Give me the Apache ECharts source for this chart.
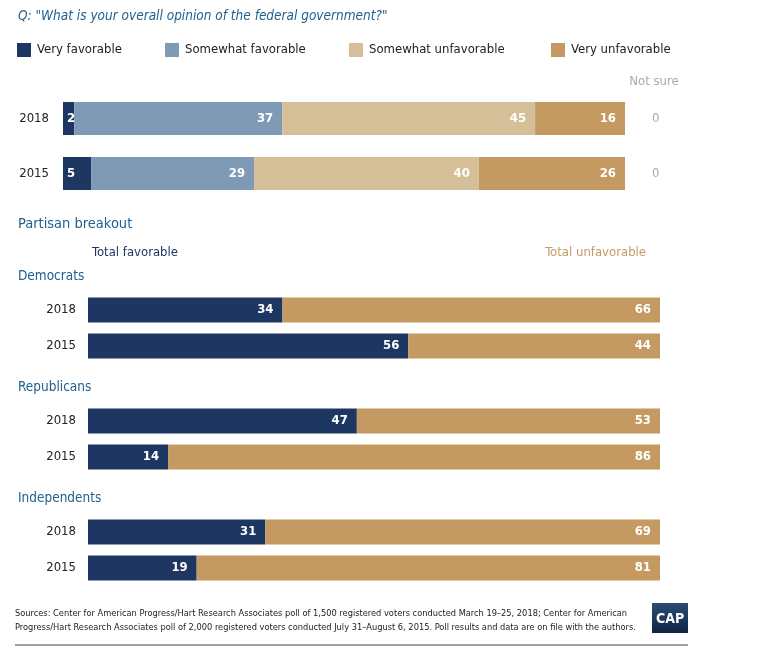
<!DOCTYPE html>
<html>
<head>
<meta charset="utf-8">
<script src="https://cdn.jsdelivr.net/npm/echarts@6/dist/echarts.min.js"></script>
<style>
  html, body { margin: 0; padding: 0; background: #fff; }
  #main { width: 762px; height: 655px; }
</style>
</head>
<body>
<div id="main"></div>
<script>
// overall opinion, top block
var years = ['2018', '2015']
var veryFav = [2, 5]
var somewhatFav = [37, 29]
var somewhatUnfav = [45, 40]
var veryUnfav = [16, 26]
var notSure = [0, 0]

// partisan breakout
var groups = ['Democrats', 'Republicans', 'Independents']
var totalFav = [[34, 56], [47, 14], [31, 19]]
var totalUnfav = [[66, 44], [53, 86], [69, 81]]

var FONT = "'DejaVu Sans Condensed', 'Liberation Sans Narrow', sans-serif"
var NAVY = '#1e3762'
var SFAV = '#7f9ab4'
var SUNF = '#d5bf98'
var VUNF = '#c49a62'
var BLUE = '#22608f'

var chart = echarts.init(document.getElementById('main'), null, { renderer: 'canvas' })

var grids = [{ left: 63, right: 137, top: 91, height: 110 }]
var xAxes = [{ gridIndex: 0, type: 'value', min: 0, max: 100, show: false }]
var yAxes = [
  {
    gridIndex: 0, type: 'category', data: years, inverse: true,
    axisLine: { show: false }, axisTick: { show: false }, splitLine: { show: false },
    axisLabel: { margin: 14, color: '#222', fontFamily: FONT, fontSize: 13 }
  },
  {
    gridIndex: 0, type: 'category', data: notSure.map(String), inverse: true, position: 'right',
    axisLine: { show: false }, axisTick: { show: false }, splitLine: { show: false },
    axisLabel: { margin: 27, color: '#aaa', fontFamily: FONT, fontSize: 13 }
  }
]

function valLabel() {
  return {
    show: true, position: 'insideRight', distance: 9,
    color: '#fff', fontFamily: FONT, fontSize: 13, fontWeight: 'bold'
  }
}

var series = [
  { name: 'Very favorable', data: veryFav, color: NAVY },
  { name: 'Somewhat favorable', data: somewhatFav, color: SFAV },
  { name: 'Somewhat unfavorable', data: somewhatUnfav, color: SUNF },
  { name: 'Very unfavorable', data: veryUnfav, color: VUNF }
].map(function (s) {
  var lab = valLabel()
  if (s.name === 'Very favorable') { lab.position = 'insideLeft'; lab.distance = 4 }
  return {
    type: 'bar', name: s.name, stack: 'top', xAxisIndex: 0, yAxisIndex: 0,
    data: s.data, barWidth: 33, itemStyle: { color: s.color },
    label: lab, silent: true
  }
})

var groupTops = [292, 403, 514]
groups.forEach(function (g, i) {
  var gi = i + 1
  grids.push({ left: 88, right: 102, top: groupTops[i], height: 72 })
  xAxes.push({ gridIndex: gi, type: 'value', min: 0, max: 100, show: false })
  yAxes.push({
    gridIndex: gi, type: 'category', data: years, inverse: true,
    axisLine: { show: false }, axisTick: { show: false }, splitLine: { show: false },
    axisLabel: { margin: 12, color: '#222', fontFamily: FONT, fontSize: 13 }
  })
  var yi = yAxes.length - 1
  series.push({
    type: 'bar', name: g + ' favorable', stack: 'g' + gi, xAxisIndex: gi, yAxisIndex: yi,
    data: totalFav[i], barWidth: 25, itemStyle: { color: NAVY }, label: valLabel(), silent: true
  })
  series.push({
    type: 'bar', name: g + ' unfavorable', stack: 'g' + gi, xAxisIndex: gi, yAxisIndex: yi,
    data: totalUnfav[i], barWidth: 25, itemStyle: { color: VUNF }, label: valLabel(), silent: true
  })
})

var legendNames = ['Very favorable', 'Somewhat favorable', 'Somewhat unfavorable', 'Very unfavorable']
var legendLefts = [17, 165, 349, 551]
var legends = legendNames.map(function (n, i) {
  return {
    data: [n], left: legendLefts[i], top: 43, padding: 0, itemWidth: 14, itemHeight: 14, itemGap: 0,
    icon: 'rect', selectedMode: false,
    textStyle: { color: '#222', fontFamily: FONT, fontSize: 13, padding: [0, 0, 0, 1] }
  }
})

function txt(x, y, s, color, opts) {
  opts = opts || {}
  return {
    type: 'text', x: x, y: y,
    style: {
      text: s, fill: color, fontFamily: FONT, fontSize: opts.size || 13.5,
      fontStyle: opts.italic ? 'italic' : 'normal', align: opts.align || 'left',
      verticalAlign: 'middle'
    }
  }
}

var graphics = [
  txt(18, 16, 'Q: "What is your overall opinion of the federal government?"', BLUE, { italic: true, size: 13.5 }),
  txt(654, 82, 'Not sure', '#aaa', { size: 13, align: 'center' }),
  txt(18, 224, 'Partisan breakout', BLUE, { size: 14.5 }),
  txt(92, 253, 'Total favorable', NAVY, { size: 13 }),
  txt(646, 253, 'Total unfavorable', VUNF, { size: 13, align: 'right' }),
  txt(18, 276, 'Democrats', BLUE),
  txt(18, 387, 'Republicans', BLUE),
  txt(18, 498, 'Independents', BLUE),
  {
    type: 'text', x: 15, y: 607,
    style: {
      text: 'Sources: Center for American Progress/Hart Research Associates poll of 1,500 registered voters conducted March 19\u201325, 2018; Center for American\nProgress/Hart Research Associates poll of 2,000 registered voters conducted July 31\u2013August 6, 2015. Poll results and data are on file with the authors.',
      fill: '#222', fontFamily: FONT, fontSize: 9.2, lineHeight: 14
    }
  },
  {
    type: 'rect', x: 652, y: 603, shape: { width: 36, height: 30 },
    style: {
      fill: new echarts.graphic.LinearGradient(0, 0, 0, 1, [
        { offset: 0, color: '#2b4d74' }, { offset: 1, color: '#0f2544' }
      ])
    }
  },
  {
    type: 'text', x: 670, y: 619,
    style: { text: 'CAP', fill: '#fff', fontFamily: FONT, fontSize: 14, fontWeight: 'bold', align: 'center', verticalAlign: 'middle' }
  },
  {
    type: 'rect', x: 15, y: 644, shape: { width: 673, height: 2 },
    style: { fill: '#a0a0a8' }
  }
]

chart.setOption({
  backgroundColor: '#fff',
  animation: false,
  legend: legends,
  grid: grids,
  xAxis: xAxes,
  yAxis: yAxes,
  series: series,
  graphic: graphics
})
</script>
</body>
</html>
